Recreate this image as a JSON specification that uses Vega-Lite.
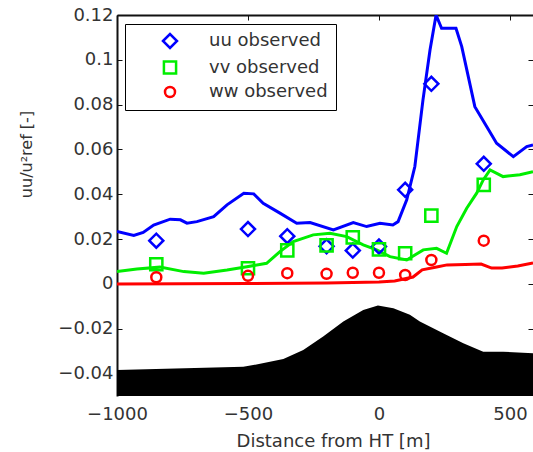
{
  "$schema": "https://vega.github.io/schema/vega-lite/v6.json",
  "width": 416,
  "height": 381,
  "autosize": "none",
  "padding": {"left": 117, "top": 15, "right": 0, "bottom": 56},
  "config": {"view": {"stroke": null}, "font": "DejaVu Sans"},
  "datasets": {
    "terrain": [
      {"x": -1000, "y": -0.0384}, {"x": -518, "y": -0.0369}, {"x": -480, "y": -0.0362},
      {"x": -365, "y": -0.0335}, {"x": -289, "y": -0.0295}, {"x": -213, "y": -0.0235},
      {"x": -136, "y": -0.0168}, {"x": -60, "y": -0.0116}, {"x": -4, "y": -0.0096},
      {"x": 55, "y": -0.0108}, {"x": 118, "y": -0.0138}, {"x": 156, "y": -0.0168},
      {"x": 245, "y": -0.0220}, {"x": 322, "y": -0.0265}, {"x": 398, "y": -0.0302},
      {"x": 474, "y": -0.0302}, {"x": 588, "y": -0.0309}
    ],
    "lines": [
      {"series": "uu", "x": -1000, "y": 0.0234}, {"series": "uu", "x": -936, "y": 0.0216},
      {"series": "uu", "x": -900, "y": 0.0230}, {"series": "uu", "x": -860, "y": 0.0263},
      {"series": "uu", "x": -797, "y": 0.0289}, {"series": "uu", "x": -758, "y": 0.0286},
      {"series": "uu", "x": -733, "y": 0.0271}, {"series": "uu", "x": -695, "y": 0.0278},
      {"series": "uu", "x": -631, "y": 0.0300}, {"series": "uu", "x": -580, "y": 0.0353},
      {"series": "uu", "x": -516, "y": 0.0405}, {"series": "uu", "x": -478, "y": 0.0402},
      {"series": "uu", "x": -442, "y": 0.0360}, {"series": "uu", "x": -378, "y": 0.0316},
      {"series": "uu", "x": -314, "y": 0.0271}, {"series": "uu", "x": -263, "y": 0.0274},
      {"series": "uu", "x": -174, "y": 0.0241}, {"series": "uu", "x": -98, "y": 0.0274},
      {"series": "uu", "x": -47, "y": 0.0256}, {"series": "uu", "x": 4, "y": 0.0271},
      {"series": "uu", "x": 53, "y": 0.0263}, {"series": "uu", "x": 73, "y": 0.0278},
      {"series": "uu", "x": 106, "y": 0.0375}, {"series": "uu", "x": 137, "y": 0.0524},
      {"series": "uu", "x": 168, "y": 0.0821}, {"series": "uu", "x": 195, "y": 0.1045},
      {"series": "uu", "x": 218, "y": 0.1200}, {"series": "uu", "x": 239, "y": 0.1141},
      {"series": "uu", "x": 294, "y": 0.1141}, {"series": "uu", "x": 316, "y": 0.1059},
      {"series": "uu", "x": 341, "y": 0.0925}, {"series": "uu", "x": 366, "y": 0.0791},
      {"series": "uu", "x": 411, "y": 0.0702}, {"series": "uu", "x": 449, "y": 0.0628},
      {"series": "uu", "x": 513, "y": 0.0568}, {"series": "uu", "x": 564, "y": 0.0613},
      {"series": "uu", "x": 588, "y": 0.0620},
      {"series": "vv", "x": -1000, "y": 0.0055}, {"series": "vv", "x": -924, "y": 0.0067},
      {"series": "vv", "x": -836, "y": 0.0075}, {"series": "vv", "x": -745, "y": 0.0055},
      {"series": "vv", "x": -669, "y": 0.0048}, {"series": "vv", "x": -580, "y": 0.0062},
      {"series": "vv", "x": -504, "y": 0.0077}, {"series": "vv", "x": -429, "y": 0.0092},
      {"series": "vv", "x": -378, "y": 0.0144}, {"series": "vv", "x": -327, "y": 0.0189},
      {"series": "vv", "x": -251, "y": 0.0219}, {"series": "vv", "x": -187, "y": 0.0226},
      {"series": "vv", "x": -123, "y": 0.0211}, {"series": "vv", "x": -60, "y": 0.0174},
      {"series": "vv", "x": -9, "y": 0.0152}, {"series": "vv", "x": 42, "y": 0.0122},
      {"series": "vv", "x": 106, "y": 0.0107}, {"series": "vv", "x": 169, "y": 0.0152},
      {"series": "vv", "x": 220, "y": 0.0159}, {"series": "vv", "x": 258, "y": 0.0137},
      {"series": "vv", "x": 297, "y": 0.0256}, {"series": "vv", "x": 335, "y": 0.0338},
      {"series": "vv", "x": 373, "y": 0.0405}, {"series": "vv", "x": 398, "y": 0.0464},
      {"series": "vv", "x": 424, "y": 0.0509}, {"series": "vv", "x": 474, "y": 0.0479},
      {"series": "vv", "x": 538, "y": 0.0487}, {"series": "vv", "x": 588, "y": 0.0501},
      {"series": "ww", "x": -1000, "y": 0.0}, {"series": "ww", "x": -500, "y": 0.0002},
      {"series": "ww", "x": -200, "y": 0.0004}, {"series": "ww", "x": 0, "y": 0.0009},
      {"series": "ww", "x": 60, "y": 0.0013}, {"series": "ww", "x": 130, "y": 0.0031},
      {"series": "ww", "x": 165, "y": 0.0063}, {"series": "ww", "x": 220, "y": 0.0076},
      {"series": "ww", "x": 260, "y": 0.0085}, {"series": "ww", "x": 330, "y": 0.0087},
      {"series": "ww", "x": 390, "y": 0.0089}, {"series": "ww", "x": 430, "y": 0.0071},
      {"series": "ww", "x": 470, "y": 0.0071}, {"series": "ww", "x": 530, "y": 0.0080},
      {"series": "ww", "x": 588, "y": 0.0094}
    ],
    "obs": [
      {"series": "uu observed", "x": -850, "y": 0.0193}, {"series": "uu observed", "x": -500, "y": 0.0245},
      {"series": "uu observed", "x": -350, "y": 0.0213}, {"series": "uu observed", "x": -200, "y": 0.0168},
      {"series": "uu observed", "x": -100, "y": 0.0149}, {"series": "uu observed", "x": 0, "y": 0.0167},
      {"series": "uu observed", "x": 100, "y": 0.0420}, {"series": "uu observed", "x": 200, "y": 0.0893},
      {"series": "uu observed", "x": 400, "y": 0.0536},
      {"series": "vv observed", "x": -850, "y": 0.0088}, {"series": "vv observed", "x": -500, "y": 0.0070},
      {"series": "vv observed", "x": -350, "y": 0.0150}, {"series": "vv observed", "x": -200, "y": 0.0172},
      {"series": "vv observed", "x": -100, "y": 0.0208}, {"series": "vv observed", "x": 0, "y": 0.0154},
      {"series": "vv observed", "x": 100, "y": 0.0137}, {"series": "vv observed", "x": 200, "y": 0.0305},
      {"series": "vv observed", "x": 400, "y": 0.0442},
      {"series": "ww observed", "x": -850, "y": 0.0030}, {"series": "ww observed", "x": -500, "y": 0.0036},
      {"series": "ww observed", "x": -350, "y": 0.0048}, {"series": "ww observed", "x": -200, "y": 0.0045},
      {"series": "ww observed", "x": -100, "y": 0.0050}, {"series": "ww observed", "x": 0, "y": 0.0050},
      {"series": "ww observed", "x": 100, "y": 0.0040}, {"series": "ww observed", "x": 200, "y": 0.0107},
      {"series": "ww observed", "x": 400, "y": 0.0193}
    ]
  },
  "layer": [
    {
      "data": {"name": "terrain"},
      "mark": {"type": "area", "color": "#000000", "clip": true},
      "encoding": {
        "x": {
          "field": "x", "type": "quantitative",
          "scale": {"domain": [-1000, 588], "nice": false, "zero": false},
          "axis": {
            "orient": "bottom", "values": [-1000, -500, 0, 500], "format": "d",
            "domain": false, "ticks": false, "grid": false, "labelFlush": false, "labelOverlap": false,
            "labelFont": "DejaVu Sans", "labelFontSize": 18, "labelColor": "#333333", "labelPadding": 9,
            "title": "Distance from HT [m]", "titleFont": "DejaVu Sans", "titleFontSize": 18,
            "titleFontWeight": "normal", "titleColor": "#333333", "titleX": 216, "titleY": 50,
            "titleBaseline": "alphabetic", "titleAlign": "center"
          }
        },
        "y": {
          "field": "y", "type": "quantitative",
          "scale": {"domain": [-0.05, 0.12], "nice": false, "zero": false},
          "axis": {
            "orient": "left", "values": [-0.04, -0.02, 0, 0.02, 0.04, 0.06, 0.08, 0.1, 0.12], "format": ".2~g",
            "grid": false, "domainColor": "#111111", "domainWidth": 2, "tickColor": "#111111",
            "tickSize": -5, "tickWidth": 1, "labelPadding": 9, "labelFlush": false, "labelOverlap": false,
            "labelFont": "DejaVu Sans", "labelFontSize": 18, "labelColor": "#333333",
            "title": "uu/u²ref [-]", "titleFont": "DejaVu Sans", "titleFontSize": 16, "titleFontWeight": "normal",
            "titleColor": "#333333", "titleX": -86, "titleY": 139, "titleAngle": 270,
            "titleBaseline": "alphabetic", "titleAlign": "center"
          }
        },
        "y2": {"datum": -0.05}
      }
    },
    {
      "data": {"name": "lines"},
      "mark": {"type": "line", "strokeWidth": 3, "clip": true},
      "encoding": {
        "x": {
          "field": "x", "type": "quantitative",
          "axis": {
            "orient": "top", "values": [-1000, -500, 0, 500], "labels": false, "grid": false,
            "domainColor": "#111111", "domainWidth": 2, "tickColor": "#111111", "tickSize": -5, "title": null
          }
        },
        "y": {
          "field": "y", "type": "quantitative",
          "axis": {
            "orient": "right", "values": [-0.04, -0.02, 0, 0.02, 0.04, 0.06, 0.08, 0.1, 0.12],
            "labels": false, "grid": false, "domain": false, "tickColor": "#111111", "tickSize": -5, "title": null
          }
        },
        "stroke": {
          "field": "series", "type": "nominal",
          "scale": {"domain": ["uu", "vv", "ww"], "range": ["#0000ff", "#00ee00", "#ff0000"]},
          "legend": null
        },
        "detail": {"field": "series"}
      }
    },
    {
      "data": {"name": "obs"},
      "mark": {"type": "point", "filled": false, "strokeWidth": 2.5, "opacity": 1},
      "encoding": {
        "x": {"field": "x", "type": "quantitative", "axis": null},
        "y": {"field": "y", "type": "quantitative", "axis": null},
        "color": {
          "field": "series", "type": "nominal",
          "scale": {"domain": ["uu observed", "vv observed", "ww observed"], "range": ["#0000ff", "#00ee00", "#ff0000"]},
          "legend": {
            "title": null, "orient": "none", "legendX": 8, "legendY": 9,
            "strokeColor": "#000000", "fillColor": "#ffffff", "padding": 8, "rowPadding": 2.5,
            "symbolOffset": 28, "labelOffset": 30, "labelFont": "DejaVu Sans", "labelFontSize": 18,
            "labelColor": "#333333", "symbolStrokeWidth": 2.5,
            "encode": {"legend": {"update": {"strokeWidth": {"value": 2}}}}
          }
        },
        "shape": {
          "field": "series", "type": "nominal",
          "scale": {"domain": ["uu observed", "vv observed", "ww observed"], "range": ["diamond", "square", "circle"]}
        },
        "size": {
          "field": "series", "type": "nominal",
          "scale": {"domain": ["uu observed", "vv observed", "ww observed"], "range": [196, 100, 140]}
        }
      }
    }
  ],
  "resolve": {"axis": {"x": "independent", "y": "independent"}}
}
